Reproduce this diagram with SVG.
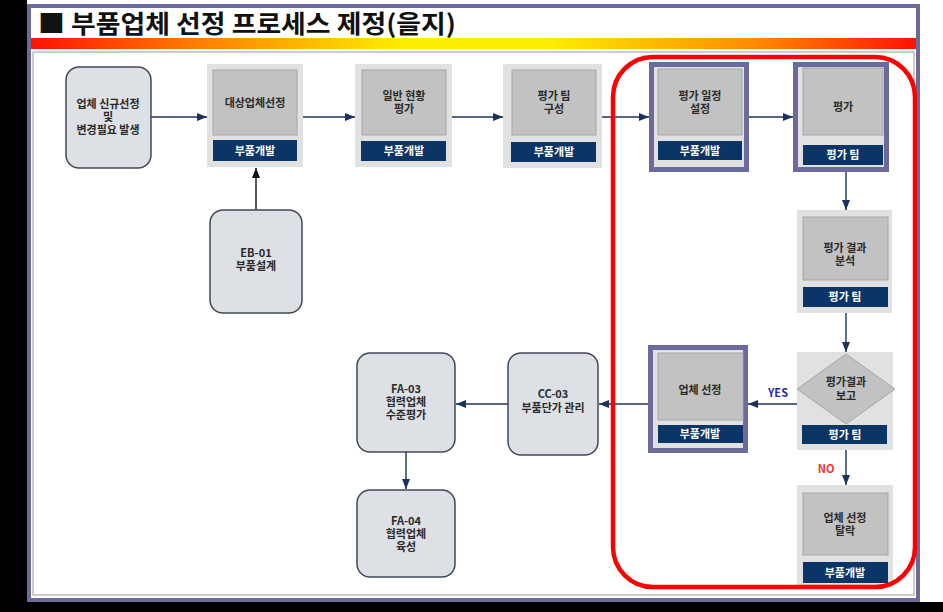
<svg xmlns="http://www.w3.org/2000/svg" width="943" height="612" viewBox="0 0 943 612">
<defs>
<linearGradient id="bar" x1="0" y1="0" x2="1" y2="0">
<stop offset="0" stop-color="#ff1200"/>
<stop offset="0.18" stop-color="#ff7a00"/>
<stop offset="0.42" stop-color="#ffee00"/>
<stop offset="0.58" stop-color="#ffee00"/>
<stop offset="0.82" stop-color="#ff8a00"/>
<stop offset="1" stop-color="#ff1200"/>
</linearGradient>
<marker id="ah" markerWidth="10" markerHeight="8" refX="10" refY="4" orient="auto" markerUnits="userSpaceOnUse">
<path d="M0,0 L10,4 L0,8 z" fill="#1b3358"/>
</marker>
<marker id="ahk" markerWidth="10" markerHeight="8" refX="10" refY="4" orient="auto" markerUnits="userSpaceOnUse">
<path d="M0,0 L10,4 L0,8 z" fill="#111"/>
</marker>
</defs>
<style>
text{font-family:"Noto Sans CJK KR","Noto Sans",sans-serif;font-weight:bold;text-anchor:middle}
.t{font-size:11px;fill:#2a2a2a}
.b{font-size:11px;fill:#ffffff}
.rn{fill:#dde0e5;stroke:#3e4a58;stroke-width:1.5}
.pn{fill:#e1e1e1;stroke:none}
.pp{fill:#e1e1e1;stroke:#6b6a9c;stroke-width:5}
.in{fill:#c2c2c2;stroke:#a6a6a6;stroke-width:1}
.lb{fill:#0c3567}
.c{stroke:#1b3358;stroke-width:1.4;fill:none;marker-end:url(#ah)}
</style>
<rect x="0" y="0" width="943" height="612" fill="#ffffff"/>
<rect x="0" y="0" width="27" height="612" fill="#000"/>
<rect x="0" y="602" width="943" height="10" fill="#000"/>
<rect x="29" y="6" width="889" height="594" fill="#ffffff" stroke="#6b6a9c" stroke-width="4"/>
<rect x="33" y="52" width="881" height="543" fill="none" stroke="#9a9a9a" stroke-width="1"/>
<rect x="31" y="38" width="885" height="11" fill="url(#bar)"/>
<text x="38" y="33" style="font-size:25px;text-anchor:start;fill:#111" textLength="418" lengthAdjust="spacingAndGlyphs">■ 부품업체 선정 프로세스 제정(을지)</text>

<g id="connectors">
<line class="c" x1="151" y1="117" x2="207" y2="117"/>
<line class="c" x1="303" y1="117" x2="355" y2="117"/>
<line class="c" x1="452" y1="117" x2="503" y2="117"/>
<line class="c" x1="602" y1="117" x2="649" y2="117"/>
<line class="c" x1="748" y1="117" x2="793" y2="117"/>
<line class="c" x1="846" y1="172" x2="846" y2="210"/>
<line class="c" x1="846" y1="313" x2="846" y2="352"/>
<line class="c" x1="797" y1="404" x2="748" y2="404"/>
<line class="c" x1="648" y1="404" x2="599" y2="404"/>
<line class="c" x1="508" y1="404" x2="456" y2="404"/>
<line class="c" x1="406" y1="452" x2="406" y2="489"/>
<line class="c" x1="846" y1="450" x2="846" y2="485"/>
<line x1="256" y1="210" x2="256" y2="168" stroke="#111" stroke-width="1.4" marker-end="url(#ahk)"/>
<text x="778" y="397" style="font-size:11px;fill:#2a2aa8">YES</text>
<text x="826" y="473" style="font-size:11px;fill:#ff2a2a">NO</text>
</g>

<g id="n1">
<rect class="rn" x="66" y="67" width="85" height="101" rx="13"/>
<text class="t"><tspan x="108" y="108">업체 신규선정</tspan><tspan x="108" y="121">및</tspan><tspan x="108" y="134">변경필요 발생</tspan></text>
</g>
<g id="n2">
<rect class="pn" x="207" y="64" width="96" height="103"/>
<rect class="in" x="213" y="70" width="84" height="65"/>
<rect class="lb" x="213" y="140" width="84" height="21"/>
<text class="t" x="255" y="107">대상업체선정</text>
<text class="b" x="255" y="155">부품개발</text>
</g>
<g id="n3">
<rect class="pn" x="355" y="64" width="97" height="103"/>
<rect class="in" x="362" y="70" width="84" height="65"/>
<rect class="lb" x="361" y="141" width="85" height="20"/>
<text class="t"><tspan x="404" y="100">일반 현황</tspan><tspan x="404" y="113">평가</tspan></text>
<text class="b" x="404" y="155">부품개발</text>
</g>
<g id="n4">
<rect class="pn" x="503" y="64" width="99" height="104"/>
<rect class="in" x="512" y="70" width="84" height="65"/>
<rect class="lb" x="511" y="142" width="85" height="20"/>
<text class="t"><tspan x="554" y="100">평가 팀</tspan><tspan x="554" y="113">구성</tspan></text>
<text class="b" x="554" y="156">부품개발</text>
</g>
<g id="n5">
<rect class="pp" x="651.5" y="64.5" width="95" height="105"/>
<rect class="in" x="658" y="69" width="84" height="66"/>
<rect class="lb" x="658" y="141" width="84" height="19"/>
<text class="t"><tspan x="700" y="100">평가 일정</tspan><tspan x="700" y="113">설정</tspan></text>
<text class="b" x="700" y="155">부품개발</text>
</g>
<g id="n6">
<rect class="pp" x="795.5" y="64.5" width="91" height="105"/>
<rect class="in" x="803" y="68" width="80" height="67"/>
<rect class="lb" x="803" y="145" width="80" height="20"/>
<text class="t" x="843" y="111">평가</text>
<text class="b" x="843" y="159">평가 팀</text>
</g>
<g id="n7">
<rect class="pn" x="797" y="210" width="95" height="103"/>
<rect class="in" x="803" y="217" width="85" height="63"/>
<rect class="lb" x="803" y="287" width="85" height="20"/>
<text class="t"><tspan x="845" y="252">평가 결과</tspan><tspan x="845" y="265">분석</tspan></text>
<text class="b" x="845" y="301">평가 팀</text>
</g>
<g id="n8">
<rect class="pn" x="797" y="352" width="96" height="98"/>
<polygon class="in" points="846,354 895,389 846,424 797,389"/>
<rect class="lb" x="802" y="425" width="85" height="19"/>
<text class="t"><tspan x="846" y="386">평가결과</tspan><tspan x="846" y="400">보고</tspan></text>
<text class="b" x="845" y="439">평가 팀</text>
</g>
<g id="n9">
<rect class="pp" x="650.5" y="347.5" width="95" height="103"/>
<rect class="in" x="658" y="353" width="85" height="67"/>
<rect class="lb" x="658" y="425" width="85" height="18"/>
<text class="t" x="700" y="394">업체 선정</text>
<text class="b" x="700" y="438">부품개발</text>
</g>
<g id="n10">
<rect class="rn" x="508" y="353" width="90" height="102" rx="13"/>
<text class="t"><tspan x="553" y="398">CC-03</tspan><tspan x="553" y="412">부품단가 관리</tspan></text>
</g>
<g id="n11">
<rect class="rn" x="357" y="353" width="98" height="99" rx="13"/>
<text class="t"><tspan x="406" y="393">FA-03</tspan><tspan x="406" y="406">협력업체</tspan><tspan x="406" y="419">수준평가</tspan></text>
</g>
<g id="n12">
<rect class="rn" x="357" y="490" width="98" height="87" rx="13"/>
<text class="t"><tspan x="406" y="525">FA-04</tspan><tspan x="406" y="538">협력업체</tspan><tspan x="406" y="551">육성</tspan></text>
</g>
<g id="n13">
<rect class="pn" x="797" y="485" width="96" height="103"/>
<rect class="in" x="803" y="493" width="85" height="62"/>
<rect class="lb" x="803" y="562" width="85" height="21"/>
<text class="t"><tspan x="845" y="522">업체 선정</tspan><tspan x="845" y="535">탈락</tspan></text>
<text class="b" x="845" y="577">부품개발</text>
</g>
<g id="n14">
<rect class="rn" x="210" y="210" width="92" height="103" rx="13"/>
<text class="t"><tspan x="256" y="257">EB-01</tspan><tspan x="256" y="270">부품설계</tspan></text>
</g>
<rect id="highlight" x="613" y="57" width="302" height="530" rx="40" fill="none" stroke="#ff0000" stroke-width="4.5"/>
</svg>
